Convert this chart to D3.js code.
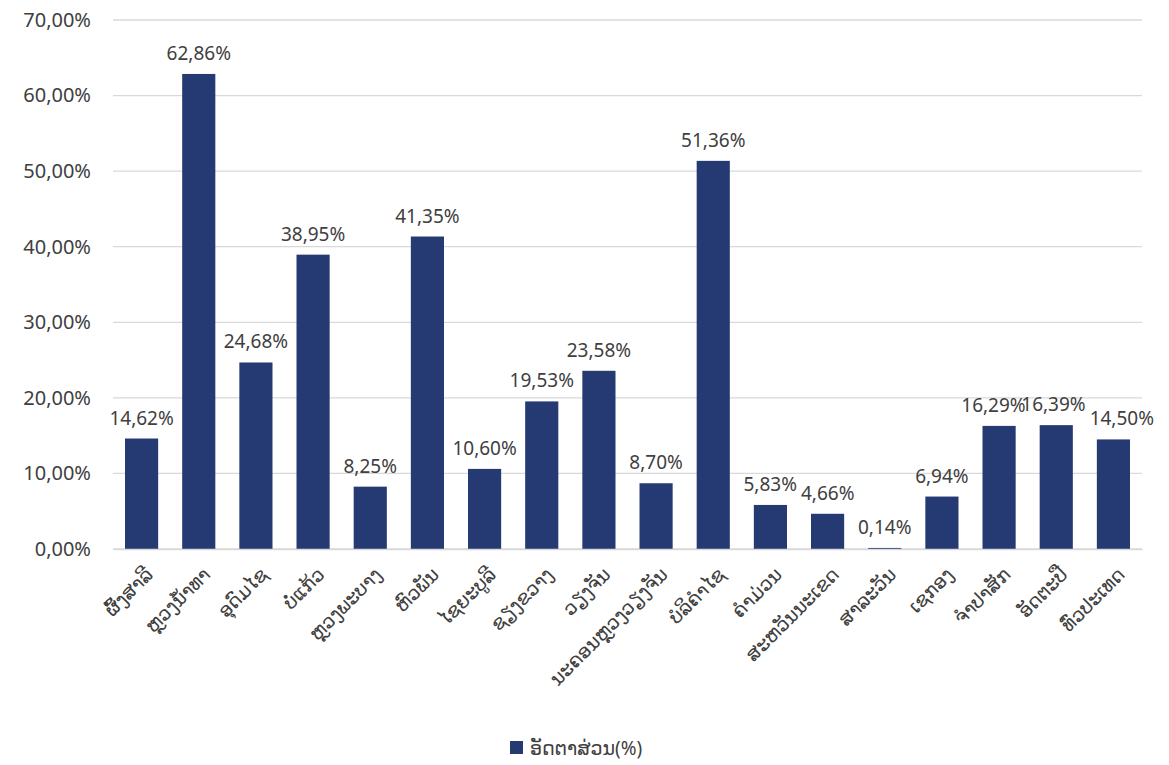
<!DOCTYPE html>
<html>
<head>
<meta charset="utf-8">
<script src="https://cdn.jsdelivr.net/npm/d3@7"></script>
<style>
  body { margin: 0; background: #fff; }
  text { font-family: "Noto Sans", "DejaVu Sans", sans-serif; fill: #404040; }
</style>
</head>
<body>
<script>
// provinces
var provinces = ["ຜົ້ງສາລີ", "ຫຼວງນ້ຳທາ", "ອຸດົມໄຊ", "ບໍ່ແກ້ວ", "ຫຼວງພະບາງ", "ຫົວພັນ",
  "ໄຊຍະບູລີ", "ຊຽງຂວາງ", "ວຽງຈັນ", "ນະຄອນຫຼວງວຽງຈັນ", "ບໍລິຄຳໄຊ", "ຄຳມ່ວນ",
  "ສະຫວັນນະເຂດ", "ສາລະວັນ", "ເຊກອງ", "ຈຳປາສັກ", "ອັດຕະປື", "ທົ່ວປະເທດ"];
var rates = [14.62, 62.86, 24.68, 38.95, 8.25, 41.35, 10.60, 19.53, 23.58, 8.70,
  51.36, 5.83, 4.66, 0.14, 6.94, 16.29, 16.39, 14.50];
var yTicks = [0, 10, 20, 30, 40, 50, 60, 70];
var seriesName = "ອັດຕາສ່ວນ(%)";

var W = 1169, H = 765;
var margin = {top: 20, right: 27, bottom: 216, left: 113};
var w = W - margin.left - margin.right;
var h = H - margin.top - margin.bottom;

function fmt(v) { return v.toFixed(2).replace(".", ",") + "%"; }

var svg = d3.select("body").append("svg")
    .attr("width", W)
    .attr("height", H);

var g = svg.append("g")
    .attr("transform", "translate(" + margin.left + "," + margin.top + ")");

var x = d3.scaleBand()
    .domain(provinces)
    .range([0, w])
    .paddingInner(0.42)
    .paddingOuter(0.21);

var y = d3.scaleLinear()
    .domain([0, 70])
    .range([h, 0]);

// gridlines
g.selectAll(".grid")
    .data(yTicks)
    .enter()
    .append("line")
    .attr("x1", 0)
    .attr("x2", w)
    .attr("y1", function (d) { return y(d); })
    .attr("y2", function (d) { return y(d); })
    .attr("stroke", "#d9d9d9")
    .attr("stroke-width", 1.3);

// y axis labels
var yAxis = g.append("g")
    .call(d3.axisLeft(y).tickValues(yTicks).tickSize(0).tickPadding(22).tickFormat(fmt));
yAxis.select(".domain").remove();
yAxis.selectAll("text")
    .style("font-size", "20px")
    .attr("fill", "#404040");

// bars
g.selectAll(".bar")
    .data(rates)
    .enter()
    .append("rect")
    .attr("x", function (d, i) { return x(provinces[i]); })
    .attr("y", function (d) { return y(d); })
    .attr("width", x.bandwidth())
    .attr("height", function (d) { return h - y(d); })
    .attr("fill", "#253a73");

// value labels
var vals = g.selectAll(".val")
    .data(rates)
    .enter()
    .append("text")
    .attr("class", "val")
    .attr("x", function (d, i) { return x(provinces[i]) + x.bandwidth() / 2; })
    .attr("y", function (d) { return y(d) - 14; })
    .attr("text-anchor", "middle")
    .style("font-size", "19px")
    .text(fmt);

// nudge neighbouring labels apart when they sit at the same height and collide
var nodes = vals.nodes();
for (var i = 1; i < nodes.length; i++) {
    var a = nodes[i - 1], b = nodes[i];
    if (Math.abs(rates[i] - rates[i - 1]) * (h / 70) > 24) continue;
    var ax = +a.getAttribute("x"), bx = +b.getAttribute("x");
    var need = (a.getComputedTextLength() + b.getComputedTextLength()) / 2 + 4;
    var gap = bx - ax;
    if (gap < need) {
        var d = (need - gap) / 2;
        a.setAttribute("x", ax - d);
        b.setAttribute("x", bx + d);
    }
}

// x axis
var xAxis = g.append("g")
    .attr("transform", "translate(0," + h + ")")
    .call(d3.axisBottom(x).tickSize(0).tickPadding(0));
xAxis.select(".domain").attr("stroke", "#d9d9d9").attr("stroke-width", 1.3);
xAxis.selectAll("text")
    .style("font-size", "19px")
    .attr("text-anchor", "end")
    .attr("dy", "0.35em")
    .attr("transform", "translate(8,22) rotate(-45)");

// legend
var legend = svg.append("g")
    .attr("transform", "translate(510,748)");
legend.append("rect")
    .attr("x", 0)
    .attr("y", -7)
    .attr("width", 13)
    .attr("height", 13)
    .attr("fill", "#253a73");
legend.append("text")
    .attr("x", 20)
    .attr("y", 0)
    .attr("dy", "0.35em")
    .style("font-size", "19px")
    .text(seriesName);
</script>
</body>
</html>
